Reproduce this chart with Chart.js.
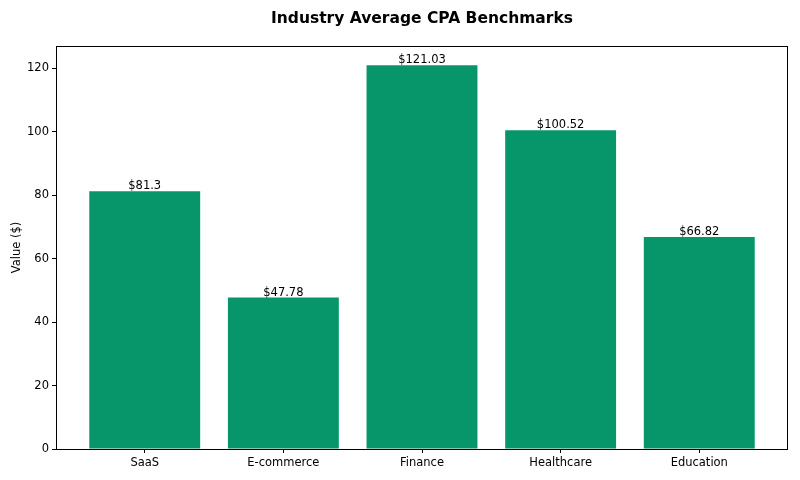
<!DOCTYPE html>
<html>
<head>
<meta charset="utf-8">
<script src="https://cdn.jsdelivr.net/npm/chart.js@4"></script>
<style>
  html, body { margin: 0; padding: 0; background: #fff; }
  #wrap { width: 800px; height: 480px; }
</style>
</head>
<body>
<div id="wrap"><canvas id="chart" width="800" height="480"></canvas></div>
<script>
const categories = ['SaaS', 'E-commerce', 'Finance', 'Healthcare', 'Education'];
const cpaValues = [81.3, 47.78, 121.03, 100.52, 66.82];
const yTicks = [0, 20, 40, 60, 80, 100, 120];

const FONT = "'DejaVu Sans', sans-serif";
const BAR_COLOR = '#069669';

// box around plot, title, and value labels like matplotlib
const decorations = {
  id: 'decorations',
  afterDatasetsDraw(chart) {
    const { ctx } = chart;
    const meta = chart.getDatasetMeta(0);
    ctx.save();
    ctx.fillStyle = '#000';
    ctx.font = '11.5px ' + FONT;
    ctx.textAlign = 'center';
    ctx.textBaseline = 'bottom';
    meta.data.forEach((bar, i) => {
      ctx.fillText('$' + cpaValues[i], bar.x, bar.y + 1);
    });
    ctx.restore();
  },
  afterDraw(chart) {
    const { ctx, chartArea } = chart;
    ctx.save();
    ctx.strokeStyle = '#000';
    ctx.lineWidth = 1;
    ctx.strokeRect(chartArea.left + 0.5, chartArea.top + 0.5,
      chartArea.right - chartArea.left - 1, chartArea.bottom - chartArea.top);
    ctx.fillStyle = '#000';
    ctx.font = 'bold 15.5px ' + FONT;
    ctx.textAlign = 'center';
    ctx.textBaseline = 'middle';
    ctx.fillText('Industry Average CPA Benchmarks', (chartArea.left + chartArea.right) / 2, 19);
    ctx.restore();
  }
};

new Chart(document.getElementById('chart'), {
  type: 'bar',
  data: {
    datasets: [{
      data: cpaValues.map((v, i) => ({ x: i, y: v })),
      backgroundColor: BAR_COLOR,
      borderWidth: 0,
      barPercentage: 0.8,
      categoryPercentage: 1.0
    }]
  },
  options: {
    responsive: false,
    animation: false,
    layout: { padding: { top: 46, right: 12, left: 0, bottom: 0 } },
    plugins: {
      legend: { display: false },
      title: { display: false },
      tooltip: { enabled: false }
    },
    scales: {
      x: {
        type: 'linear',
        offset: false,
        min: -0.64,
        max: 4.64,
        afterBuildTicks: (scale) => { scale.ticks = categories.map((_, i) => ({ value: i })); },
        afterFit: (scale) => { scale.height = 31; },
        grid: { offset: false, drawOnChartArea: false, drawTicks: true, tickLength: 4, color: '#000' },
        border: { display: false },
        ticks: {
          autoSkip: false,
          maxRotation: 0,
          color: '#000',
          padding: 3,
          font: { family: FONT, size: 11.5 },
          callback: (v) => categories[v]
        }
      },
      y: {
        min: 0,
        max: 127.08,
        afterBuildTicks: (scale) => { scale.ticks = yTicks.map(v => ({ value: v })); },
        afterFit: (scale) => { scale.width = 56; },
        grid: { drawOnChartArea: false, drawTicks: true, tickLength: 4, color: '#000' },
        border: { display: false },
        title: {
          display: true,
          text: 'Value ($)',
          color: '#000',
          font: { family: FONT, size: 11.5 },
          padding: { top: 10, bottom: 0 }
        },
        ticks: {
          color: '#000',
          padding: 3,
          font: { family: FONT, size: 11.5 }
        }
      }
    }
  },
  plugins: [decorations]
});
</script>
</body>
</html>
